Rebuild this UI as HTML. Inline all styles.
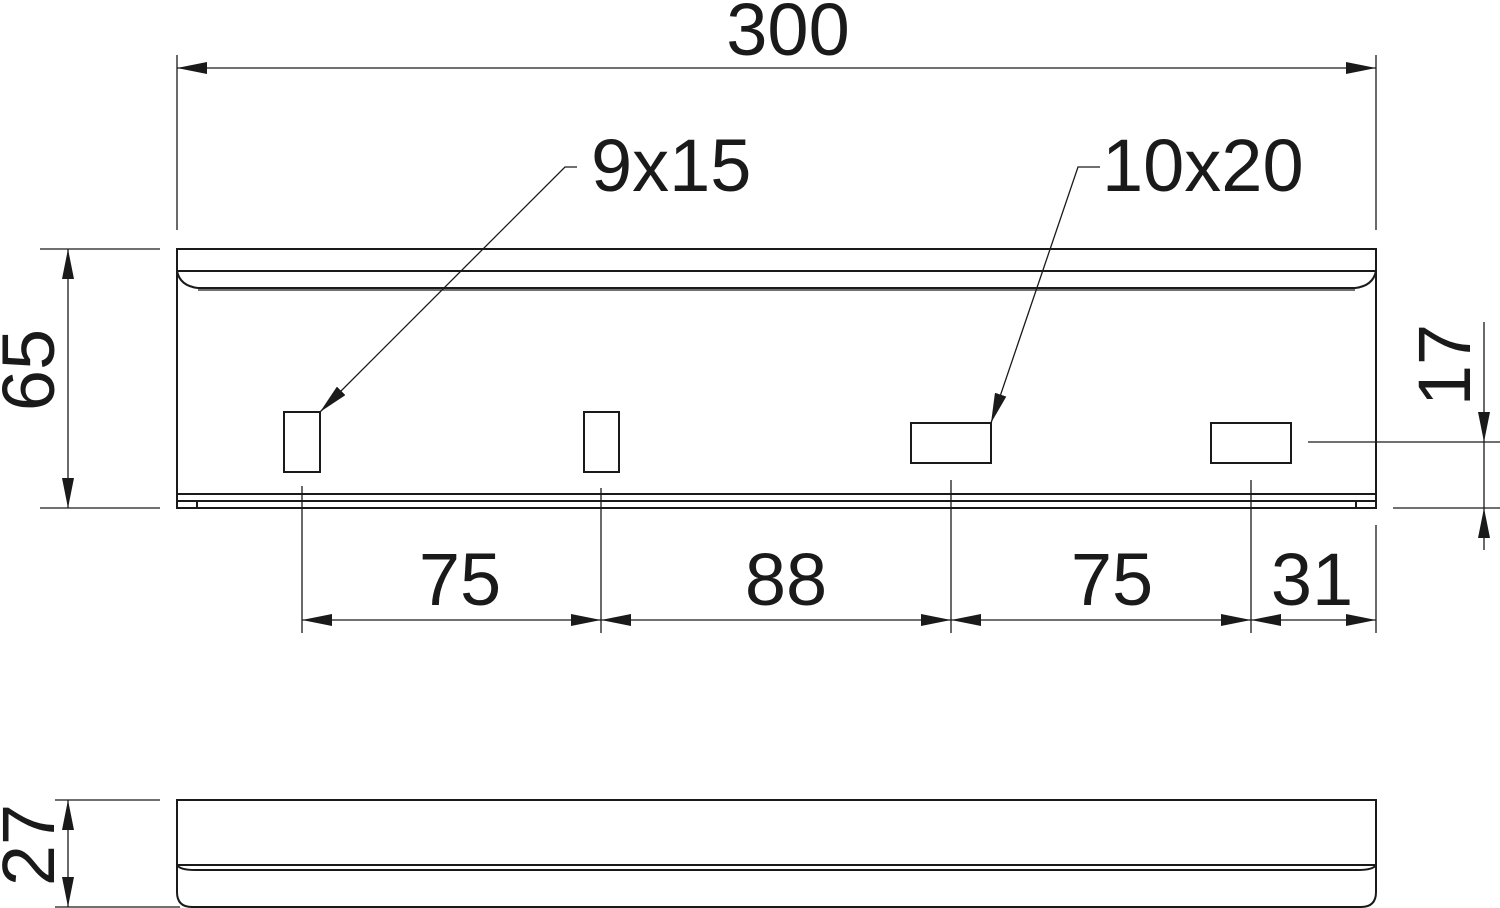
<!DOCTYPE html>
<html><head><style>html,body{margin:0;padding:0;background:#fff}svg{display:block}</style></head>
<body>
<svg width="1500" height="908" viewBox="0 0 1500 908" xmlns="http://www.w3.org/2000/svg" font-family="Liberation Sans, sans-serif" fill="#1a1a1a">
<defs>
<marker id="a" markerWidth="30" markerHeight="12" refX="30" refY="6" orient="auto-start-reverse" markerUnits="userSpaceOnUse">
<path d="M0,0 L30,6 L0,12 z" fill="#1a1a1a"/>
</marker>
</defs>
<g stroke="#1a1a1a" fill="none">
<g stroke-width="2">
<rect x="177" y="249" width="1199" height="259"/>
<line x1="177" y1="271" x2="1376" y2="271"/>
<path d="M177,271 Q180,286 198,288 L1355,288 Q1373,286 1376,271"/>
<line x1="198" y1="290" x2="1355" y2="290" stroke-width="1.2"/>
<line x1="177" y1="494" x2="1376" y2="494"/>
<line x1="177" y1="501" x2="1376" y2="501"/>
<line x1="197" y1="501" x2="197" y2="508"/>
<line x1="1356" y1="501" x2="1356" y2="508"/>
<rect x="284" y="412" width="36" height="60"/>
<rect x="584" y="412" width="35" height="60"/>
<rect x="911" y="423" width="80" height="40"/>
<rect x="1211" y="423" width="80" height="40"/>
</g>
<g stroke-width="1.3">
<line x1="177" y1="55" x2="177" y2="230"/>
<line x1="1376" y1="55" x2="1376" y2="230"/>
<line x1="177" y1="68" x2="1376" y2="68" marker-start="url(#a)" marker-end="url(#a)"/>
<line x1="40" y1="249" x2="160" y2="249"/>
<line x1="40" y1="508" x2="160" y2="508"/>
<line x1="68" y1="249" x2="68" y2="508" marker-start="url(#a)" marker-end="url(#a)"/>
<line x1="302" y1="486" x2="302" y2="633"/>
<line x1="601" y1="488" x2="601" y2="633"/>
<line x1="951" y1="480" x2="951" y2="633"/>
<line x1="1251" y1="480" x2="1251" y2="633"/>
<line x1="1376" y1="525" x2="1376" y2="633"/>
<line x1="302" y1="620" x2="601" y2="620" marker-start="url(#a)" marker-end="url(#a)"/>
<line x1="601" y1="620" x2="951" y2="620" marker-start="url(#a)" marker-end="url(#a)"/>
<line x1="951" y1="620" x2="1251" y2="620" marker-start="url(#a)" marker-end="url(#a)"/>
<line x1="1251" y1="620" x2="1376" y2="620" marker-start="url(#a)" marker-end="url(#a)"/>
<line x1="1308" y1="442" x2="1500" y2="442"/>
<line x1="1393" y1="508" x2="1500" y2="508"/>
<line x1="1484" y1="322" x2="1484" y2="442" marker-end="url(#a)"/>
<line x1="1484" y1="550" x2="1484" y2="508" marker-end="url(#a)"/>
<line x1="1484" y1="442" x2="1484" y2="508"/>
<polyline points="577,167 565,167 320,412" marker-end="url(#a)"/>
<polyline points="1100,167 1078,167 991,423" marker-end="url(#a)"/>
<line x1="55" y1="800" x2="160" y2="800"/>
<line x1="55" y1="907" x2="180" y2="907"/>
<line x1="68" y1="800" x2="68" y2="907" marker-start="url(#a)" marker-end="url(#a)"/>
</g>
<g stroke-width="2">
<path d="M177,800 L1376,800 L1376,892 Q1376,907 1361,907 L192,907 Q177,907 177,892 Z"/>
<line x1="177" y1="865" x2="1376" y2="865"/>
<path d="M177,865 Q180,870 195,870 L1358,870 Q1373,870 1376,865"/>
</g>
</g>
<g font-size="74">
<text x="788" y="55" text-anchor="middle">300</text>
<text x="591" y="191">9x15</text>
<text x="1102" y="191">10x20</text>
<text x="460" y="605" text-anchor="middle">75</text>
<text x="786" y="605" text-anchor="middle">88</text>
<text x="1112" y="605" text-anchor="middle">75</text>
<text x="1312" y="605" text-anchor="middle">31</text>
<text transform="translate(54,370) rotate(-90)" text-anchor="middle">65</text>
<text transform="translate(1470,365) rotate(-90)" text-anchor="middle">17</text>
<text transform="translate(54,845) rotate(-90)" text-anchor="middle">27</text>
</g>
</svg>
</body></html>
